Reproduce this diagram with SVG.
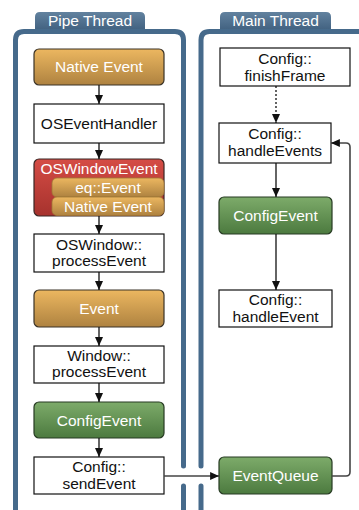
<svg xmlns="http://www.w3.org/2000/svg" width="359" height="510" viewBox="0 0 359 510">
<defs>
<linearGradient id="gGold" x1="0" y1="0" x2="0" y2="1"><stop offset="0" stop-color="#ecb760"/><stop offset="1" stop-color="#ae8240"/></linearGradient>
<linearGradient id="gRed" x1="0" y1="0" x2="0" y2="1"><stop offset="0" stop-color="#d54c45"/><stop offset="1" stop-color="#a6322d"/></linearGradient>
<linearGradient id="gGreen" x1="0" y1="0" x2="0" y2="1"><stop offset="0" stop-color="#7dab6a"/><stop offset="1" stop-color="#4c7a3f"/></linearGradient>
<linearGradient id="gTab" x1="0" y1="0" x2="0" y2="1"><stop offset="0" stop-color="#62829f"/><stop offset="1" stop-color="#3e5e7d"/></linearGradient>
<marker id="arr" viewBox="0 0 10 9" refX="10" refY="4.5" markerWidth="9" markerHeight="8" markerUnits="userSpaceOnUse" orient="auto"><path d="M0,0 L10,4.5 L0,9 z" fill="#111"/></marker>
<style>
text{font-family:"Liberation Sans",Arial,Helvetica,sans-serif;font-size:15.5px;text-anchor:middle}
.w{fill:#fff}
.k{fill:#111}
.box{fill:#fff;stroke:#111;stroke-width:1.2}
.gold{fill:url(#gGold);stroke:#3a3226;stroke-width:1.2}
.igold{fill:url(#gGold);stroke:#a07636;stroke-width:0.8}
.red{fill:url(#gRed);stroke:#3a2624;stroke-width:1.2}
.green{fill:url(#gGreen);stroke:#263a22;stroke-width:1.2}
.lane{fill:none;stroke:#466a8b;stroke-width:5;stroke-linecap:round}
.tab{fill:url(#gTab)}
.c{fill:none;stroke:#111;stroke-width:1.3}
.c2{fill:none;stroke:#444;stroke-width:1.6}
</style>
</defs>
<rect width="359" height="510" fill="#fff"/>
<g id="lanes">
<path class="tab" d="M35,32 V17 Q35,12 40,12 H140 Q145,12 145,17 V32 z"/>
<text x="90" y="26" class="w">Pipe Thread</text>
<path class="tab" d="M220,32 V17 Q220,12 225,12 H326 Q331,12 331,17 V32 z"/>
<text x="275.5" y="26" class="w">Main Thread</text>
<path class="lane" d="M15.5,515 V40 Q15.5,31.5 24,31.5 H175 Q183.5,31.5 183.5,40 V466 M183.5,486 V515"/>
<path class="lane" d="M201,466 V40 Q201,31.5 209.5,31.5 H370 M201,486 V515"/>
</g>
<g id="native-event"><rect class="gold" x="34" y="49" width="130" height="36" rx="5"/><text x="99" y="72" class="w">Native Event</text></g>
<g id="os-event-handler"><rect class="box" x="34" y="104" width="130" height="39"/><text x="99" y="129" class="k">OSEventHandler</text></g>
<g id="os-window-event"><rect class="red" x="34" y="159" width="130" height="57" rx="5"/><text x="99" y="174" class="w">OSWindowEvent</text>
<rect class="igold" x="52" y="178" width="112" height="19" rx="5"/><text x="108" y="193" class="w">eq::Event</text>
<rect class="igold" x="52" y="197" width="112" height="18.5" rx="5"/><text x="108" y="212" class="w">Native Event</text></g>
<g id="os-window-process"><rect class="box" x="34" y="234" width="130" height="38"/><text x="99" y="250" class="k">OSWindow::</text><text x="99" y="266" class="k">processEvent</text></g>
<g id="event"><rect class="gold" x="34" y="290" width="130" height="37" rx="5"/><text x="99" y="314" class="w">Event</text></g>
<g id="window-process"><rect class="box" x="34" y="346" width="130" height="37"/><text x="99" y="361" class="k">Window::</text><text x="99" y="377" class="k">processEvent</text></g>
<g id="config-event-left"><rect class="green" x="34" y="402" width="130" height="36" rx="5"/><text x="99" y="425.5" class="w">ConfigEvent</text></g>
<g id="config-send"><rect class="box" x="34" y="457" width="130" height="37"/><text x="99" y="472" class="k">Config::</text><text x="99" y="489" class="k">sendEvent</text></g>
<g id="config-finish"><rect class="box" x="220" y="48" width="130" height="38"/><text x="285" y="63.5" class="k">Config::</text><text x="285" y="80.5" class="k">finishFrame</text></g>
<g id="config-handle-events"><rect class="box" x="219" y="123" width="112" height="40"/><text x="275" y="139" class="k">Config::</text><text x="275" y="155.5" class="k">handleEvents</text></g>
<g id="config-event-right"><rect class="green" x="219" y="197" width="113" height="37" rx="5"/><text x="275.5" y="220.5" class="w">ConfigEvent</text></g>
<g id="config-handle-event"><rect class="box" x="219" y="290" width="113" height="37"/><text x="275.5" y="305" class="k">Config::</text><text x="275.5" y="322" class="k">handleEvent</text></g>
<g id="event-queue"><rect class="green" x="219" y="457" width="113" height="37" rx="5"/><text x="275.5" y="480.5" class="w">EventQueue</text></g>
<g id="connectors">
<line class="c" x1="99" y1="85" x2="99" y2="104" marker-end="url(#arr)"/>
<line class="c" x1="99" y1="143" x2="99" y2="159" marker-end="url(#arr)"/>
<line class="c" x1="99" y1="216" x2="99" y2="234" marker-end="url(#arr)"/>
<line class="c" x1="99" y1="272" x2="99" y2="290" marker-end="url(#arr)"/>
<line class="c" x1="99" y1="327" x2="99" y2="346" marker-end="url(#arr)"/>
<line class="c" x1="99" y1="383" x2="99" y2="402" marker-end="url(#arr)"/>
<line class="c" x1="99" y1="438" x2="99" y2="457" marker-end="url(#arr)"/>
<line class="c" x1="276" y1="86" x2="276" y2="123" stroke-dasharray="2,2" marker-end="url(#arr)"/>
<line class="c" x1="276" y1="163" x2="276" y2="197" marker-end="url(#arr)"/>
<line class="c" x1="276" y1="234" x2="276" y2="290" marker-end="url(#arr)"/>
<line class="c2" x1="164" y1="476" x2="219" y2="476" marker-end="url(#arr)"/>
<path class="c2" d="M332,476 H346 Q350,476 350,472 V147 Q350,143 346,143 H331" marker-end="url(#arr)"/>
</g>
</svg>
